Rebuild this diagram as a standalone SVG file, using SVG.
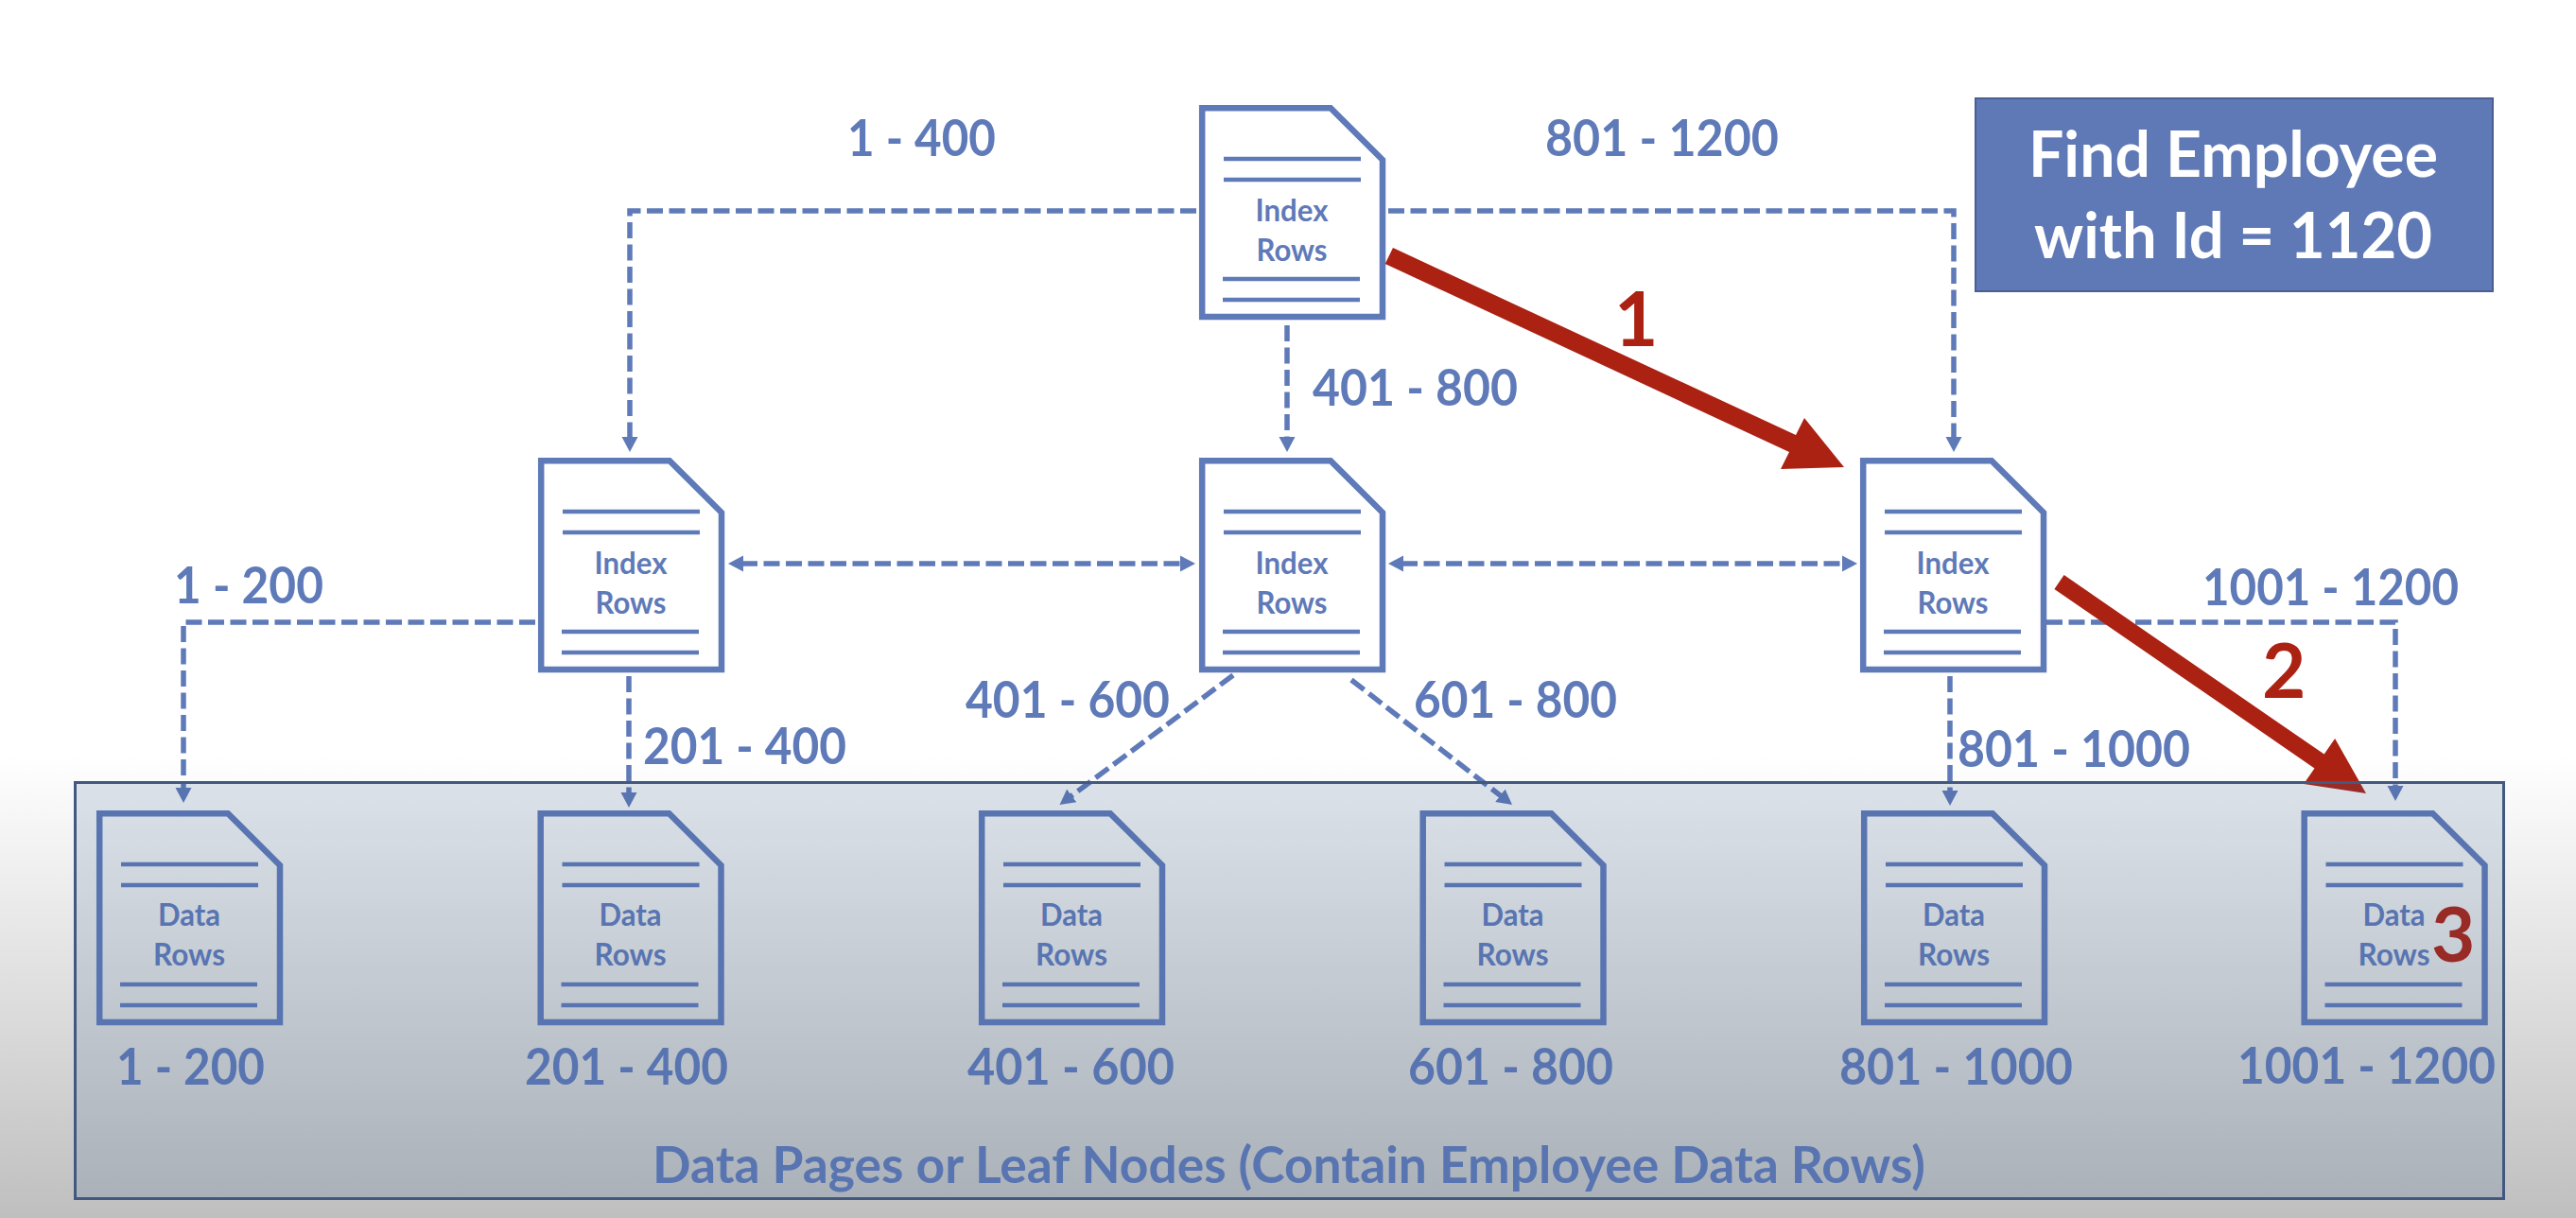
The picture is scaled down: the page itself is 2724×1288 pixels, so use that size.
<svg xmlns="http://www.w3.org/2000/svg" width="2724" height="1288" viewBox="0 0 2724 1288">
<style>
text{font-family:Lato,"Open Sans","Liberation Sans",sans-serif;font-weight:700}
.t{font-size:32px;fill:#5f7ab8;text-anchor:middle}
.l{font-size:54px;fill:#5f7ab8}
.b{font-size:67px;fill:#fff}
.n{font-size:80px;fill:#ab2213}
.c{fill:none;stroke:#5f7ab8;stroke-width:5.5;stroke-dasharray:17 6.5}
.a{marker-end:url(#h)}
.d{marker-start:url(#h);marker-end:url(#h)}
.o{fill:none;stroke:#5f7ab8;stroke-width:6.5;stroke-miterlimit:4}
.r{stroke:#5f7ab8;stroke-width:4.5;fill:none}
</style>
<defs>
<linearGradient id="pg" x1="0" y1="0" x2="0" y2="1288" gradientUnits="userSpaceOnUse"><stop offset="0.62" stop-color="#ffffff"/><stop offset="1" stop-color="#bfbfbf"/></linearGradient>
<marker id="h" markerUnits="userSpaceOnUse" markerWidth="18" markerHeight="18" refX="2" refY="9" orient="auto-start-reverse"><path d="M0,0.5 L16,9 L0,17.5 Z" fill="#5f7ab8"/></marker>
<g id="doc">
<path class="o" d="M3.2,3.2 H139 L194,58 V224 H3.2 Z"/>
<path class="r" d="M26,57 H171 M26,79 H171 M25,184 H170 M25,206 H170"/>
</g>
</defs>
<rect id="page" width="2724" height="1288" fill="url(#pg)"/>

<g id="connectors">
<path class="c a" d="M1265,223 H666 V464"/>
<path class="c a" d="M1468,223 H2066 V464"/>
<path class="c a" d="M1361,344 V464"/>
<path class="c d" d="M784,596 H1250"/>
<path class="c d" d="M1482,596 H1950"/>
<path class="c a" d="M566,658 H194 V835"/>
<path class="c a" d="M665,715 V840"/>
<path class="c a" d="M1304,714 L1131.7,842.6"/>
<path class="c a" d="M1429,719 L1588,842.4"/>
<path class="c a" d="M2062,715 V838"/>
<path class="c a" d="M2164,658 H2533 V833"/>
</g>

<g id="node-root" transform="translate(1268,111)"><use href="#doc"/><text class="t" x="98" y="123" textLength="77" lengthAdjust="spacingAndGlyphs">Index</text><text class="t" x="98" y="165" textLength="75" lengthAdjust="spacingAndGlyphs">Rows</text></g>
<g id="node-mid-1" transform="translate(569,484)"><use href="#doc"/><text class="t" x="98" y="123" textLength="77" lengthAdjust="spacingAndGlyphs">Index</text><text class="t" x="98" y="165" textLength="75" lengthAdjust="spacingAndGlyphs">Rows</text></g>
<g id="node-mid-2" transform="translate(1268,484)"><use href="#doc"/><text class="t" x="98" y="123" textLength="77" lengthAdjust="spacingAndGlyphs">Index</text><text class="t" x="98" y="165" textLength="75" lengthAdjust="spacingAndGlyphs">Rows</text></g>
<g id="node-mid-3" transform="translate(1967,484)"><use href="#doc"/><text class="t" x="98" y="123" textLength="77" lengthAdjust="spacingAndGlyphs">Index</text><text class="t" x="98" y="165" textLength="75" lengthAdjust="spacingAndGlyphs">Rows</text></g>
<g id="node-leaf-1" transform="translate(102,857)"><use href="#doc"/><text class="t" x="98" y="122" textLength="66" lengthAdjust="spacingAndGlyphs">Data</text><text class="t" x="98" y="164" textLength="76" lengthAdjust="spacingAndGlyphs">Rows</text></g>
<g id="node-leaf-2" transform="translate(568.5,857)"><use href="#doc"/><text class="t" x="98" y="122" textLength="66" lengthAdjust="spacingAndGlyphs">Data</text><text class="t" x="98" y="164" textLength="76" lengthAdjust="spacingAndGlyphs">Rows</text></g>
<g id="node-leaf-3" transform="translate(1035,857)"><use href="#doc"/><text class="t" x="98" y="122" textLength="66" lengthAdjust="spacingAndGlyphs">Data</text><text class="t" x="98" y="164" textLength="76" lengthAdjust="spacingAndGlyphs">Rows</text></g>
<g id="node-leaf-4" transform="translate(1501.5,857)"><use href="#doc"/><text class="t" x="98" y="122" textLength="66" lengthAdjust="spacingAndGlyphs">Data</text><text class="t" x="98" y="164" textLength="76" lengthAdjust="spacingAndGlyphs">Rows</text></g>
<g id="node-leaf-5" transform="translate(1968,857)"><use href="#doc"/><text class="t" x="98" y="122" textLength="66" lengthAdjust="spacingAndGlyphs">Data</text><text class="t" x="98" y="164" textLength="76" lengthAdjust="spacingAndGlyphs">Rows</text></g>
<g id="node-leaf-6" transform="translate(2433.5,857)"><use href="#doc"/><text class="t" x="98" y="122" textLength="66" lengthAdjust="spacingAndGlyphs">Data</text><text class="t" x="98" y="164" textLength="76" lengthAdjust="spacingAndGlyphs">Rows</text></g>

<g id="labels">
<text class="l" x="896" y="165" textLength="157" lengthAdjust="spacingAndGlyphs">1 - 400</text>
<text class="l" x="1634" y="165" textLength="247" lengthAdjust="spacingAndGlyphs">801 - 1200</text>
<text class="l" x="1388" y="429" textLength="217" lengthAdjust="spacingAndGlyphs">401 - 800</text>
<text class="l" x="184" y="638" textLength="158" lengthAdjust="spacingAndGlyphs">1 - 200</text>
<text class="l" x="2329" y="640" textLength="271" lengthAdjust="spacingAndGlyphs">1001 - 1200</text>
<text class="l" x="1021" y="759" textLength="216" lengthAdjust="spacingAndGlyphs">401 - 600</text>
<text class="l" x="1495" y="759" textLength="215" lengthAdjust="spacingAndGlyphs">601 - 800</text>
<text class="l" x="680" y="808" textLength="215" lengthAdjust="spacingAndGlyphs">201 - 400</text>
<text class="l" x="2070" y="811" textLength="246" lengthAdjust="spacingAndGlyphs">801 - 1000</text>
<text class="l" x="123" y="1147" textLength="157" lengthAdjust="spacingAndGlyphs">1 - 200</text>
<text class="l" x="555" y="1147" textLength="215" lengthAdjust="spacingAndGlyphs">201 - 400</text>
<text class="l" x="1023" y="1147" textLength="219" lengthAdjust="spacingAndGlyphs">401 - 600</text>
<text class="l" x="1489" y="1147" textLength="217" lengthAdjust="spacingAndGlyphs">601 - 800</text>
<text class="l" x="1945" y="1147" textLength="247" lengthAdjust="spacingAndGlyphs">801 - 1000</text>
<text class="l" x="2366" y="1146" textLength="273" lengthAdjust="spacingAndGlyphs">1001 - 1200</text>
<text class="l" x="690" y="1251" textLength="1346" lengthAdjust="spacingAndGlyphs">Data Pages or Leaf Nodes (Contain Employee Data Rows)</text>
</g>

<g id="node-note">
<rect x="2089" y="104" width="547" height="204" fill="#5f78b6" stroke="#4a6094" stroke-width="2"/>
<text class="b" x="2145" y="187" textLength="433" lengthAdjust="spacingAndGlyphs">Find Employee</text>
<text class="b" x="2151" y="273" textLength="421" lengthAdjust="spacingAndGlyphs">with Id = 1120</text>
</g>

<g id="steps">
<path fill="#ab2213" d="M1464.7,279 L1473,262 L1899,460 L1908,442 L1950,494 L1883,496 L1892,478 Z"/>
<path fill="#ab2213" d="M2172.4,622.9 L2182.6,608.1 L2457.7,797.6 L2469.1,781.1 L2502,839 L2436.1,828.9 L2447.5,812.4 Z"/>
<text class="n" x="1707" y="366">1</text>
<text class="n" x="2392" y="738">2</text>
<text class="n" x="2571" y="1017">3</text>
</g>

<rect id="leaf-panel" x="79.5" y="827.5" width="2568" height="440" fill="#3a6090" fill-opacity="0.16" stroke="#42587f" stroke-width="3"/>
</svg>
